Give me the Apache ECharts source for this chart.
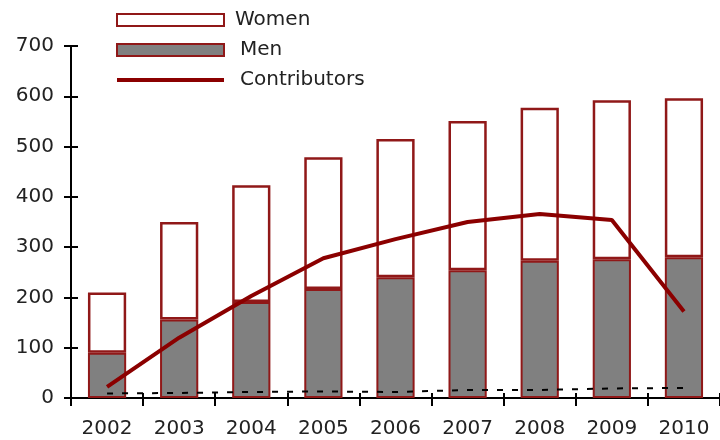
<!DOCTYPE html>
<html>
<head>
<meta charset="utf-8">
<script src="https://cdn.jsdelivr.net/npm/echarts@6/dist/echarts.min.js"></script>
<style>html,body{margin:0;padding:0;background:#fff}#c{width:720px;height:440px}</style>
</head>
<body>
<div id="c"></div>
<script>
var years = ['2002','2003','2004','2005','2006','2007','2008','2009','2010'];
var men = [90, 156, 191, 217, 240, 254, 273, 276, 280];
var women = [120, 194, 232, 262, 275, 297, 304, 316, 316];
var contributors = [22, 120, 203, 278, 316, 350, 366, 354, 172];
var other = [9, 10, 12, 13, 12, 16, 16, 19, 20];
var yTicks = [0, 100, 200, 300, 400, 500, 600, 700];

var FONT = 'DejaVu Sans';
var RED = '#8b0000';
var BORDER = '#901818';
var chart = echarts.init(document.getElementById('c'));
chart.setOption({
  animation: false,
  backgroundColor: '#fff',
  textStyle: { fontFamily: FONT },
  grid: { left: 71, top: 46, bottom: 42, right: -6, containLabel: false },
  legend: {
    orient: 'vertical', left: 115, top: 10, padding: 0, itemWidth: 107, itemHeight: 12, itemGap: 10,
    data: [
      { name: 'Women', icon: 'rect', textStyle: { padding: [0,0,0,6] } },
      { name: 'Men', icon: 'rect', textStyle: { padding: [0,0,0,11] } },
      { name: 'Contributors',
        itemStyle: { color: 'rgba(0,0,0,0)', borderColor: 'rgba(0,0,0,0)', borderWidth: 0, opacity: 0 },
        lineStyle: { color: RED, width: 4 },
        textStyle: { padding: [0,0,0,11] } }
    ],
    textStyle: { fontFamily: FONT, fontSize: 20, color: '#222', lineHeight: 20 }
  },
  xAxis: [{
    type: 'category', data: years, position: 'bottom',
    axisLine: { lineStyle: { color: '#000', width: 2 } },
    axisTick: { show: true, length: 8, lineStyle: { color: '#000', width: 2 } },
    axisLabel: { fontFamily: FONT, fontSize: 20, color: '#222', margin: 21 }
  }, {
    type: 'category', data: years, position: 'bottom', offset: 0,
    axisLine: { show: false },
    axisTick: { show: true, inside: true, length: 5, lineStyle: { color: '#000', width: 2 } },
    axisLabel: { show: false }
  }],
  yAxis: [{
    type: 'value', min: 0, max: 700, interval: 100, position: 'left',
    axisLine: { show: true, lineStyle: { color: '#000', width: 2 } },
    axisTick: { show: true, length: 7, lineStyle: { color: '#000', width: 2 } },
    splitLine: { show: false },
    axisLabel: { fontFamily: FONT, fontSize: 20, color: '#222', margin: 17,
      formatter: function (v) { return yTicks.indexOf(v) >= 0 ? String(v) : ''; } }
  }, {
    type: 'value', min: 0, max: 700, interval: 100, position: 'left', offset: 0,
    axisLine: { show: false },
    axisTick: { show: true, inside: true, length: 7, lineStyle: { color: '#000', width: 2 } },
    splitLine: { show: false },
    axisLabel: { show: false }
  }],
  series: [
    { name: 'Men', type: 'bar', stack: 'total', data: men, barWidth: '53%',
      itemStyle: { color: '#808080', borderColor: BORDER, borderWidth: 2 } },
    { name: 'Women', type: 'bar', stack: 'total', data: women, barWidth: '53%',
      itemStyle: { color: '#fff', borderColor: BORDER, borderWidth: 2.5 } },
    { name: 'Contributors', type: 'line', data: contributors, symbol: 'none',
      lineStyle: { color: RED, width: 4 }, itemStyle: { color: RED }, z: 5 },
    { name: 'Other', type: 'line', data: other, symbol: 'none',
      lineStyle: { color: '#000', width: 2, type: [6, 9] }, itemStyle: { color: '#000' }, z: 4 }
  ]
});
</script>
</body>
</html>
